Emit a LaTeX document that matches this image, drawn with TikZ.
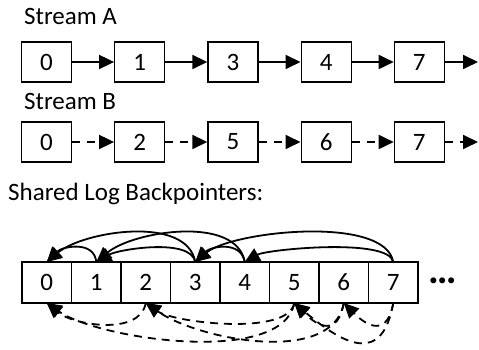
\documentclass[tikz,border=0pt]{standalone}
\usepackage{fontspec}
\setmainfont{Carlito}
\usetikzlibrary{positioning,arrows.meta}

\begin{document}
\begin{tikzpicture}[
    x=1pt,y=1pt,
    font=\fontsize{25}{29}\selectfont,
    heading/.style={anchor=base west,inner sep=0pt},
    entry/.style={
      draw,line width=1.2pt,minimum width=50pt,minimum height=40pt,inner sep=0pt
    },
    logcell/.style={
      draw,line width=1.2pt,minimum width=49.5pt,minimum height=41pt,
      inner sep=0pt,outer sep=0pt
    },
    nextptr/.style={line width=1.8pt,-{Triangle[length=15pt,width=14pt]}},
    nextdash/.style={nextptr,dash pattern=on 8pt off 7pt},
    backptr/.style={line width=1.8pt,-{Triangle[length=15pt,width=14pt]}},
    backdash/.style={backptr,dash pattern=on 8pt off 6pt}
  ]
    \useasboundingbox (0,0) rectangle (479,350);

    % stream A
    \node[heading] (labela) at (24,325) {Stream A};
    \node[entry] (a0) at (46.5,288) {0};
    \node[entry,right=42pt of a0] (a1) {1};
    \node[entry,right=42pt of a1] (a3) {3};
    \node[entry,right=42pt of a3] (a4) {4};
    \node[entry,right=42pt of a4] (a7) {7};
    \coordinate (aend) at (478,288);
    \draw[nextptr] (a0) -- (a1);
    \draw[nextptr] (a1) -- (a3);
    \draw[nextptr] (a3) -- (a4);
    \draw[nextptr] (a4) -- (a7);
    \draw[nextptr] (a7) -- (aend);

    % stream B
    \node[heading] (labelb) at (24,240) {Stream B};
    \node[entry] (b0) at (46.5,208) {0};
    \node[entry,right=42pt of b0] (b2) {2};
    \node[entry,right=42pt of b2] (b5) {5};
    \node[entry,right=42pt of b5] (b6) {6};
    \node[entry,right=42pt of b6] (b7) {7};
    \coordinate (bend) at (478,208);
    \draw[nextdash] (b0) -- (b2);
    \draw[nextdash] (b2) -- (b5);
    \draw[nextdash] (b5) -- (b6);
    \draw[nextdash] (b6) -- (b7);
    \draw[nextdash] (b7) -- (bend);

    % shared log
    \node[heading] (labellog) at (8,149) {Shared Log Backpointers:};
    \foreach \i in {0,...,7}
      \node[logcell] (l\i) at (46.75+49.5*\i,67.5) {\i};
    \node (more) at (443,69) {\fontsize{40}{40}\selectfont\bfseries …};

    % backpointers of stream A
    \draw[backptr] (l1.north) to[out=95,in=45,distance=22pt] (l0.north);
    \draw[backptr] (l3.north) to[out=100,in=40,distance=48pt] (l0.north);
    \draw[backptr] (l3.north) to[out=100,in=30,distance=25pt] (l1.north);
    \draw[backptr] (l4.north) to[out=100,in=40,distance=48pt] (l1.north);
    \draw[backptr] (l4.north) to[out=100,in=45,distance=22pt] (l3.north);
    \draw[backptr] (l7.north) to[out=100,in=40,distance=48pt] (l3.north);
    \draw[backptr] (l7.north) to[out=100,in=30,distance=25pt] (l4.north);

    % backpointers of stream B
    \draw[backdash] (l2.south) to[out=-100,in=-40,distance=34pt] (l0.south);
    \draw[backdash] (l5.south) to[out=-100,in=-35,distance=64pt] (l0.south);
    \draw[backdash] (l5.south) to[out=-100,in=-35,distance=34pt] (l2.south);
    \draw[backdash] (l6.south) to[out=-100,in=-35,distance=64pt] (l2.south);
    \draw[backdash] (l6.south) to[out=-100,in=-45,distance=34pt] (l5.south);
    \draw[backdash] (l7.south) to[out=-100,in=-40,distance=64pt] (l5.south);
    \draw[backdash] (l7.south) to[out=-100,in=-45,distance=34pt] (l6.south);
  \end{tikzpicture}
\end{document}
